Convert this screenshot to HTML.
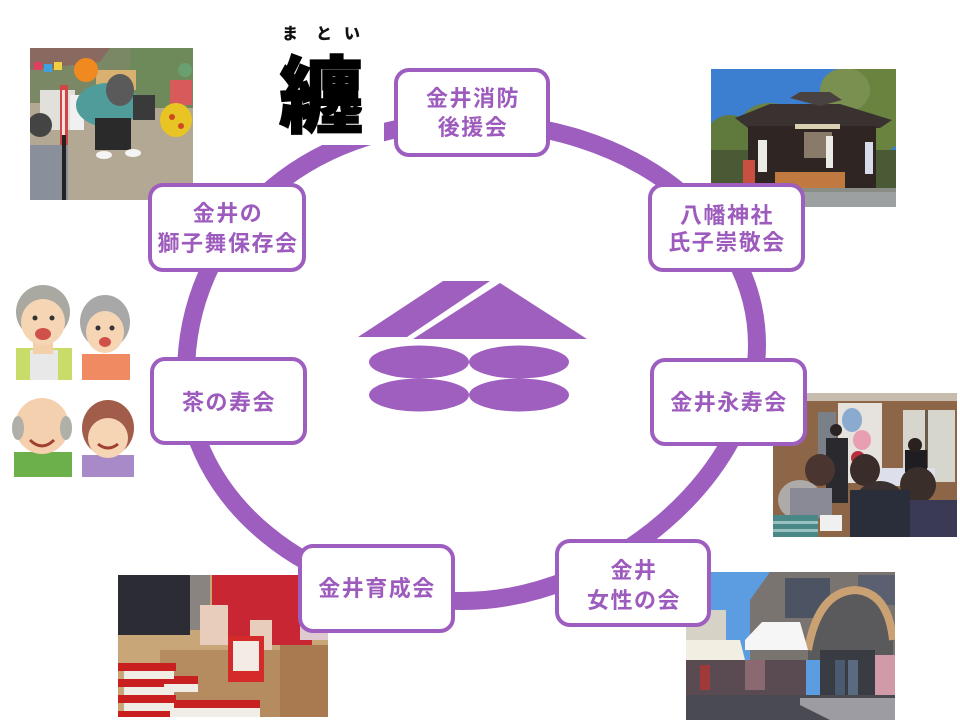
<!DOCTYPE html>
<html lang="ja">
<head>
<meta charset="utf-8">
<style>
html,body{margin:0;padding:0;background:#fff;}
body{width:960px;height:720px;overflow:hidden;}
svg{display:block;}
.t{font-family:"Liberation Sans","Noto Sans CJK JP",sans-serif;font-weight:700;font-size:22px;fill:#9d5cbd;letter-spacing:1.5px;}
</style>
</head>
<body>
<svg width="960" height="720" viewBox="0 0 960 720" xmlns="http://www.w3.org/2000/svg">
<defs>
  <clipPath id="c1"><rect x="30" y="48" width="163" height="152"/></clipPath>
  <clipPath id="c2"><rect x="711" y="69" width="185" height="138"/></clipPath>
  <clipPath id="c3"><rect x="773" y="393" width="184" height="144"/></clipPath>
  <clipPath id="c4"><rect x="118" y="575" width="210" height="142"/></clipPath>
  <clipPath id="c5"><rect x="686" y="572" width="209" height="148"/></clipPath>
</defs>
<rect width="960" height="720" fill="#fff"/>

<!-- Shishimai photo -->
<g clip-path="url(#c1)">
  <rect x="30" y="48" width="163" height="152" fill="#b3a893"/>
  <rect x="30" y="48" width="163" height="55" fill="#7b8866"/>
  <rect x="130" y="48" width="63" height="60" fill="#6f8a5a"/>
  <polygon points="30,48 110,48 100,62 30,70" fill="#8a6a60"/>
  <rect x="34" y="62" width="8" height="8" fill="#e04060"/>
  <rect x="44" y="64" width="8" height="8" fill="#40a0e0"/>
  <rect x="54" y="62" width="8" height="8" fill="#f0d040"/>
  <rect x="96" y="70" width="40" height="20" fill="#d8b070"/>
  <rect x="40" y="90" width="35" height="40" fill="#e2e0da"/>
  <rect x="70" y="95" width="14" height="35" fill="#f0f0f0"/>
  <circle cx="86" cy="70" r="12" fill="#f08a20"/>
  <rect x="60" y="85" width="8" height="60" fill="#d04545"/>
  <rect x="62" y="90" width="3" height="55" fill="#f4e0e0"/>
  <ellipse cx="108" cy="105" rx="32" ry="22" fill="#4f9c9a"/>
  <ellipse cx="120" cy="90" rx="14" ry="16" fill="#5a5a5a"/>
  <rect x="95" y="118" width="36" height="32" fill="#2a2a2a"/>
  <ellipse cx="104" cy="155" rx="8" ry="4" fill="#f4f4f4"/>
  <ellipse cx="133" cy="153" rx="8" ry="4" fill="#f4f4f4"/>
  <rect x="133" y="95" width="22" height="25" fill="#3a3a3a"/>
  <rect x="170" y="80" width="22" height="25" fill="#d85a5a"/>
  <ellipse cx="176" cy="120" rx="16" ry="17" fill="#e8c425"/>
  <circle cx="172" cy="117" r="3" fill="#d04a20"/>
  <circle cx="181" cy="126" r="3" fill="#d04a20"/>
  <circle cx="185" cy="70" r="7" fill="#6aa070"/>
  <rect x="30" y="145" width="38" height="55" fill="#8a8f9c"/>
  <circle cx="40" cy="125" r="12" fill="#444"/>
  <rect x="62" y="135" width="4" height="65" fill="#222"/>
</g>

<!-- Shrine photo -->
<g clip-path="url(#c2)">
  <rect x="711" y="69" width="185" height="138" fill="#3c7ed0"/>
  <ellipse cx="870" cy="105" rx="45" ry="50" fill="#6a8440"/>
  <ellipse cx="845" cy="90" rx="25" ry="22" fill="#7a9050"/>
  <ellipse cx="770" cy="125" rx="30" ry="22" fill="#6a8244"/>
  <ellipse cx="730" cy="140" rx="25" ry="25" fill="#5f7a3c"/>
  <rect x="711" y="150" width="185" height="40" fill="#4a5a34"/>
  <polygon points="735,118 770,104 840,104 892,120 880,128 748,128" fill="#3a3230"/>
  <polygon points="790,98 800,92 830,92 842,100 820,106" fill="#4a4240"/>
  <rect x="748" y="126" width="128" height="62" fill="#2f2522"/>
  <rect x="795" y="124" width="45" height="5" fill="#d8d0b0"/>
  <rect x="804" y="132" width="28" height="26" fill="#8a7a6a"/>
  <rect x="758" y="140" width="9" height="32" fill="#ecece6"/>
  <rect x="826" y="136" width="7" height="32" fill="#ecece6"/>
  <rect x="865" y="142" width="8" height="32" fill="#d8dce8"/>
  <rect x="743" y="160" width="12" height="28" fill="#c85040"/>
  <rect x="775" y="172" width="70" height="16" fill="#c07a40"/>
  <rect x="711" y="188" width="185" height="19" fill="#8a8c86"/>
  <rect x="711" y="192" width="185" height="15" fill="#9da0a0"/>
</g>

<!-- Elderly illustrations -->
<g>
  <rect x="16" y="348" width="56" height="32" fill="#c8dc6a"/>
  <rect x="30" y="350" width="28" height="30" fill="#e8e8e8"/>
  <rect x="33" y="340" width="20" height="14" fill="#f3cfaa"/>
  <ellipse cx="43" cy="312" rx="27" ry="27" fill="#a9a9a2"/>
  <ellipse cx="43" cy="322" rx="22" ry="23" fill="#f6d5b4"/>
  <ellipse cx="43" cy="334" rx="8" ry="6" fill="#d0504a"/>
  <circle cx="35" cy="318" r="2.5" fill="#333"/>
  <circle cx="52" cy="318" r="2.5" fill="#333"/>
  <rect x="82" y="354" width="48" height="26" fill="#f08a62"/>
  <ellipse cx="105" cy="322" rx="25" ry="27" fill="#a8a8a8"/>
  <ellipse cx="105" cy="332" rx="19" ry="21" fill="#f6d5b4"/>
  <ellipse cx="105" cy="342" rx="6" ry="5" fill="#d0504a"/>
  <circle cx="98" cy="328" r="2.5" fill="#333"/>
  <circle cx="112" cy="328" r="2.5" fill="#333"/>
  <rect x="14" y="452" width="58" height="25" fill="#6cb04c"/>
  <ellipse cx="42" cy="426" rx="27" ry="28" fill="#f4d0ae"/>
  <ellipse cx="18" cy="428" rx="6" ry="12" fill="#b0b0a8"/>
  <ellipse cx="66" cy="428" rx="6" ry="12" fill="#b0b0a8"/>
  <path d="M30 440 Q42 452 54 440" stroke="#a04030" stroke-width="3" fill="none"/>
  <rect x="82" y="455" width="52" height="22" fill="#a98ac8"/>
  <ellipse cx="108" cy="428" rx="26" ry="28" fill="#a25c4a"/>
  <ellipse cx="108" cy="438" rx="20" ry="20" fill="#f6d5b4"/>
  <path d="M98 444 Q108 452 118 444" stroke="#a04030" stroke-width="3" fill="none"/>
</g>

<!-- Concert photo -->
<g clip-path="url(#c3)">
  <rect x="773" y="393" width="184" height="144" fill="#8d6647"/>
  <rect x="773" y="393" width="184" height="8" fill="#c8bcae"/>
  <rect x="838" y="403" width="44" height="80" fill="#e6e2de"/>
  <rect x="903" y="410" width="52" height="72" fill="#d6d6cc"/>
  <rect x="925" y="410" width="3" height="72" fill="#6a5a4a"/>
  <rect x="818" y="412" width="18" height="50" fill="#7a8088"/>
  <ellipse cx="852" cy="420" rx="10" ry="12" fill="#8aaad0"/>
  <ellipse cx="862" cy="440" rx="9" ry="10" fill="#e8a0b0"/>
  <ellipse cx="858" cy="458" rx="7" ry="7" fill="#b83040"/>
  <rect x="826" y="438" width="22" height="65" fill="#2a2a2e"/>
  <circle cx="836" cy="430" r="6" fill="#2a2424"/>
  <rect x="880" y="468" width="55" height="18" fill="#dde0ea"/>
  <rect x="905" y="450" width="22" height="22" fill="#1e1e22"/>
  <circle cx="915" cy="445" r="7" fill="#2a2020"/>
  <ellipse cx="865" cy="470" rx="15" ry="16" fill="#3a2c28"/>
  <ellipse cx="918" cy="485" rx="18" ry="18" fill="#3a2e2a"/>
  <ellipse cx="820" cy="470" rx="15" ry="16" fill="#4a3530"/>
  <ellipse cx="800" cy="500" rx="22" ry="20" fill="#aeaaa8"/>
  <rect x="790" y="488" width="42" height="30" fill="#8a8a96"/>
  <ellipse cx="880" cy="505" rx="26" ry="24" fill="#3a3030"/>
  <rect x="850" y="490" width="60" height="47" fill="#2a2e3a"/>
  <rect x="910" y="500" width="47" height="37" fill="#3a3a55"/>
  <rect x="773" y="515" width="45" height="22" fill="#4a8888"/>
  <rect x="773" y="521" width="45" height="3" fill="#9ac0c0"/>
  <rect x="773" y="529" width="45" height="3" fill="#9ac0c0"/>
  <rect x="820" y="515" width="22" height="16" fill="#f0f0f0"/>
</g>

<!-- Packets photo -->
<g clip-path="url(#c4)">
  <rect x="118" y="575" width="210" height="142" fill="#c8a678"/>
  <rect x="118" y="575" width="72" height="60" fill="#2c2c34"/>
  <rect x="190" y="575" width="20" height="55" fill="#8a8480"/>
  <rect x="212" y="575" width="100" height="70" fill="#c82632"/>
  <rect x="300" y="600" width="28" height="40" fill="#e0cad2"/>
  <rect x="280" y="645" width="48" height="72" fill="#a97a50"/>
  <rect x="160" y="650" width="120" height="67" fill="#b58c60"/>
  <rect x="200" y="605" width="28" height="40" fill="#e8ccbc"/>
  <rect x="250" y="620" width="22" height="30" fill="#e8ccbc"/>
  <rect x="228" y="636" width="36" height="46" fill="#d42a2a"/>
  <rect x="233" y="641" width="26" height="30" fill="#f2ece4"/>
  <g fill="#c82020">
    <rect x="118" y="663" width="58" height="8"/>
    <rect x="118" y="679" width="58" height="8"/>
    <rect x="118" y="695" width="58" height="8"/>
    <rect x="118" y="711" width="58" height="6"/>
    <rect x="158" y="676" width="40" height="8"/>
    <rect x="160" y="700" width="100" height="8"/>
  </g>
  <g fill="#f0ece6">
    <rect x="124" y="671" width="50" height="8"/>
    <rect x="124" y="687" width="50" height="8"/>
    <rect x="124" y="703" width="50" height="8"/>
    <rect x="164" y="684" width="34" height="8"/>
    <rect x="170" y="708" width="90" height="9"/>
  </g>
</g>

<!-- Building photo -->
<g clip-path="url(#c5)">
  <rect x="686" y="572" width="209" height="148" fill="#5c9ce0"/>
  <polygon points="750,600 770,572 895,572 895,660 750,660" fill="#7a7470"/>
  <rect x="785" y="578" width="45" height="40" fill="#4c5464"/>
  <rect x="858" y="575" width="37" height="30" fill="#5a6070"/>
  <path d="M808 650 Q818 592 855 590 Q888 592 893 640 L893 660 L808 660 Z" fill="#5a5a5c"/>
  <path d="M808 650 Q818 592 855 590 Q888 592 893 640" stroke="#c9a172" stroke-width="8" fill="none"/>
  <rect x="686" y="610" width="40" height="45" fill="#d6d2c6"/>
  <polygon points="686,640 740,640 745,660 686,660" fill="#f2eee2"/>
  <polygon points="745,640 762,622 800,622 808,650 745,650" fill="#f6f6f6"/>
  <rect x="686" y="660" width="120" height="40" fill="#5a4a52"/>
  <rect x="700" y="665" width="10" height="25" fill="#a03a3a"/>
  <rect x="745" y="660" width="20" height="30" fill="#8a6a70"/>
  <rect x="820" y="650" width="55" height="50" fill="#3a3c44"/>
  <rect x="835" y="660" width="10" height="35" fill="#4a5a70"/>
  <rect x="848" y="660" width="10" height="35" fill="#5a6a80"/>
  <rect x="875" y="655" width="20" height="40" fill="#d09aa8"/>
  <rect x="686" y="695" width="209" height="25" fill="#4a4a52"/>
  <polygon points="800,698 895,698 895,720 830,720 800,705" fill="#9c9ca2"/>
</g>

<!-- Ring -->
<path d="M186 375 C186 233 300 122 468 122 C630 122 757 220 757 345 C757 473 609 601 462 601 C310 601 186 499 186 375 Z" fill="none" stroke="#9d5ebf" stroke-width="18"/>

<!-- Matoi label (white background) -->
<rect x="270" y="12" width="114" height="133" fill="#fff"/>
<text x="290" y="39" text-anchor="middle" style="font-family:'Liberation Sans','Noto Sans CJK JP',sans-serif;font-weight:900;font-size:16px;fill:#111;">ま</text>
<text x="324" y="39" text-anchor="middle" style="font-family:'Liberation Sans','Noto Sans CJK JP',sans-serif;font-weight:900;font-size:16px;fill:#111;">と</text>
<text x="352" y="39" text-anchor="middle" style="font-family:'Liberation Sans','Noto Sans CJK JP',sans-serif;font-weight:900;font-size:16px;fill:#111;">い</text>
<text x="321" y="126" text-anchor="middle" style="font-family:'Liberation Sans','Noto Sans CJK JP',sans-serif;font-weight:900;font-size:84px;fill:#000;stroke:#000;stroke-width:1.5px;">纏</text>

<!-- Center logo -->
<g fill="#9f5fbf">
  <polygon points="443,281 490,281 407,337 358,337"/>
  <polygon points="500,283 587,339 413,339"/>
  <ellipse cx="419" cy="362" rx="50" ry="16.5"/>
  <ellipse cx="519" cy="362" rx="50" ry="16.5"/>
  <ellipse cx="419" cy="395" rx="50" ry="16.5"/>
  <ellipse cx="519" cy="395" rx="50" ry="16.5"/>
</g>

<!-- Boxes -->
<g fill="#fff" stroke="#9d5ebf" stroke-width="4">
  <rect x="396" y="70" width="152" height="85" rx="13"/>
  <rect x="150" y="185" width="154" height="85" rx="13"/>
  <rect x="650" y="185" width="153" height="85" rx="13"/>
  <rect x="652" y="360" width="153" height="84" rx="13"/>
  <rect x="152" y="359" width="153" height="84" rx="13"/>
  <rect x="300" y="546" width="153" height="85" rx="13"/>
  <rect x="557" y="541" width="152" height="84" rx="13"/>
</g>

<!-- Labels -->
<text class="t" x="473" y="106" text-anchor="middle">金井消防</text>
<text class="t" x="473" y="135" text-anchor="middle">後援会</text>
<text class="t" x="228" y="221" text-anchor="middle">金井の</text>
<text class="t" x="228" y="251" text-anchor="middle">獅子舞保存会</text>
<text class="t" x="727" y="223" text-anchor="middle">八幡神社</text>
<text class="t" x="727" y="250" text-anchor="middle">氏子崇敬会</text>
<text class="t" x="729" y="410" text-anchor="middle">金井永寿会</text>
<text class="t" x="229" y="410" text-anchor="middle">茶の寿会</text>
<text class="t" x="377" y="596" text-anchor="middle">金井育成会</text>
<text class="t" x="634" y="578" text-anchor="middle">金井</text>
<text class="t" x="634" y="608" text-anchor="middle">女性の会</text>
</svg>
</body>
</html>
